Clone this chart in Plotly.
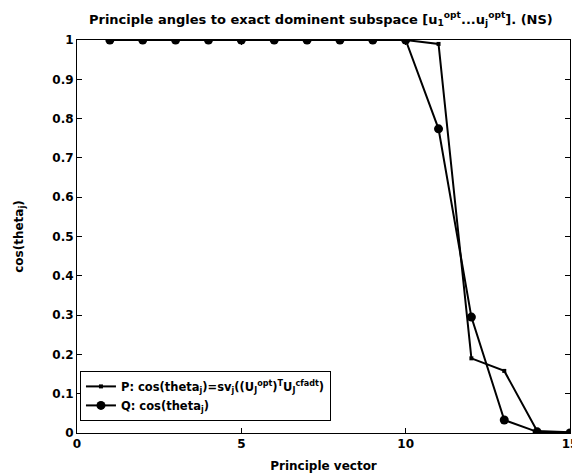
import plotly.graph_objects as go

x_vals = list(range(1, 16))
p_vals = [1, 1, 1, 1, 1, 1, 1, 1, 1, 1, 0.99, 0.19, 0.158, 0.005, 0.002]
q_vals = [1, 1, 1, 1, 1, 1, 1, 1, 1, 1, 0.774, 0.295, 0.033, 0.003, 0.0]

x_ticks = [0, 5, 10, 15]
x_tick_text = ["0", "5", "10", "15"]
y_ticks = [0, 0.1, 0.2, 0.3, 0.4, 0.5, 0.6, 0.7, 0.8, 0.9, 1]
y_tick_text = ["0", "0.1", "0.2", "0.3", "0.4", "0.5", "0.6", "0.7", "0.8", "0.9", "1"]

FONT = "DejaVu Sans"

fig = go.Figure()
fig.add_trace(go.Scatter(
    x=x_vals, y=p_vals, mode="lines+markers",
    name="<b>P: cos(theta<sub>j</sub>)=sv<sub>j</sub>((U<sub>J</sub><sup>opt</sup>)<sup>T</sup>U<sub>J</sub><sup>cfadt</sup>)</b>",
    line=dict(color="black", width=2),
    marker=dict(symbol="square", size=4, color="black"),
))
fig.add_trace(go.Scatter(
    x=x_vals, y=q_vals, mode="lines+markers",
    name="<b>Q: cos(theta<sub>j</sub>)</b>",
    line=dict(color="black", width=2),
    marker=dict(symbol="circle", size=9, color="black"),
))

# page body has an 8px margin, so the figure is sized/offset to compensate
fig.update_layout(
    width=572, height=467,
    margin=dict(l=69, r=10, t=32, b=42),
    paper_bgcolor="white", plot_bgcolor="white",
    font=dict(family=FONT, size=12, color="black"),
    title=dict(
        text="<b>Principle angles to exact dominent subspace [u<sub>1</sub><sup>opt</sup>...u<sub>j</sub><sup>opt</sup>]. (NS)</b>",
        x=0.547, xanchor="center", y=0.976, yanchor="middle",
        font=dict(family=FONT, size=13, color="black"),
    ),
    showlegend=True,
    legend=dict(
        x=0.006, y=0.158, xanchor="left", yanchor="top",
        bgcolor="white", bordercolor="black", borderwidth=1,
        font=dict(family=FONT, size=11.5, color="black"),
        tracegroupgap=0, itemwidth=30,
    ),
)
fig.update_xaxes(
    range=[0, 15], tickmode="array", tickvals=x_ticks,
    ticktext=["<b>%s</b>" % t for t in x_tick_text],
    ticks="inside", ticklen=5, tickcolor="black",
    showline=True, linecolor="black", linewidth=1, mirror="ticks",
    showgrid=False, zeroline=False, automargin=False,
    tickfont=dict(family=FONT, size=12, color="black"),
    title=dict(text="<b>Principle vector</b>", standoff=11,
               font=dict(family=FONT, size=12, color="black")),
)
fig.update_yaxes(
    range=[0, 1], tickmode="array", tickvals=y_ticks,
    ticktext=["<b>%s</b>" % t for t in y_tick_text],
    ticks="inside", ticklen=5, tickcolor="black",
    showline=True, linecolor="black", linewidth=1, mirror="ticks",
    showgrid=False, zeroline=False, automargin=False,
    tickfont=dict(family=FONT, size=12, color="black"),
    title=dict(text="<b>cos(theta<sub>j</sub>)</b>", standoff=26,
               font=dict(family=FONT, size=12, color="black")),
)

fig.write_html("out.html")
